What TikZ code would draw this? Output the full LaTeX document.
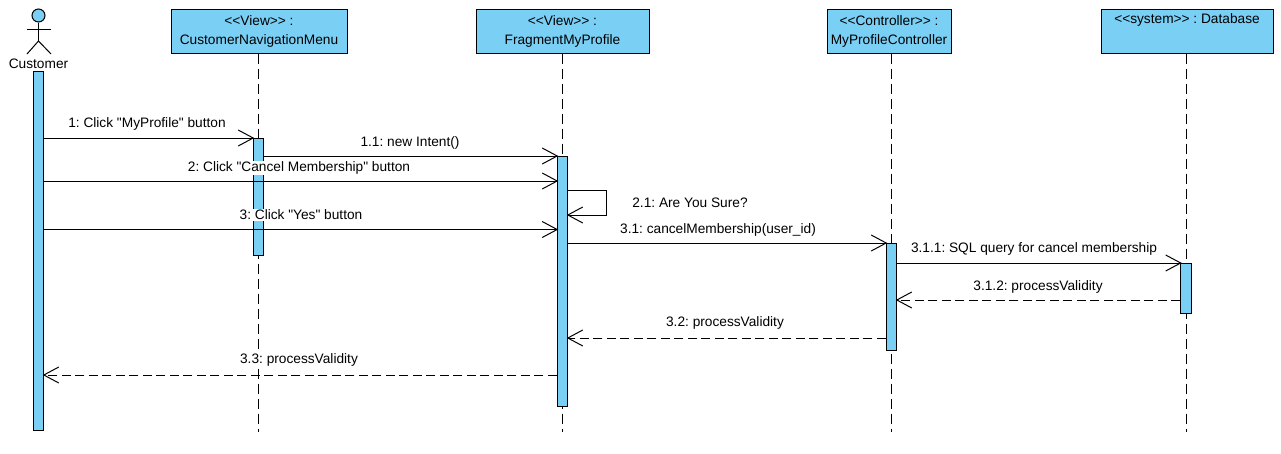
\documentclass[tikz,border=0pt]{standalone}
\usepackage{fontspec}
\setmainfont{Liberation Sans}[Ligatures=TeXOff]
\usetikzlibrary{arrows.meta}
\definecolor{umlblue}{HTML}{7ACFF5}
\tikzset{
    headbox/.style={draw, fill=umlblue, line width=1pt, minimum height=44pt, align=center, inner sep=0pt, font=\fontsize{13.7}{19}\selectfont},
    bar/.style={draw, fill=umlblue, line width=1pt, minimum width=10.5pt, inner sep=0pt},
    lifeline/.style={line width=1pt, dash pattern=on 10pt off 5pt},
    msg/.style={line width=1pt, shorten >=-1.5pt, -{Straight Barb[length=15pt,width=16pt,line width=1pt]}},
    reply/.style={msg, dash pattern=on 9pt off 4.5pt},
    msglabel/.style={fill=white, inner xsep=0pt, inner ysep=1pt, font=\fontsize{13.7}{15}\selectfont}
}
\begin{document}
\frenchspacing
\begin{tikzpicture}[x=1pt, y=-1pt]
    \useasboundingbox (0,0) rectangle (1281,453);

    % lifeline heads
    \node[headbox, minimum width=176pt] (menu) at (259,31) {<<View>> :\\CustomerNavigationMenu};
    \node[headbox, minimum width=173pt] (profile) at (562.5,31) {<<View>> :\\FragmentMyProfile};
    \node[headbox, minimum width=124pt] (control) at (889,31) {<<Controller>> :\\MyProfileController};
    \node[headbox, minimum width=172pt] (database) at (1187,31) {<<system>> : Database\\ \strut};

    \coordinate (menuEnd) at (258,432);
    \coordinate (profileEnd) at (562,432);
    \coordinate (controlEnd) at (891,432);
    \coordinate (databaseEnd) at (1186,432);

    \draw[lifeline] (menuEnd |- menu.south) -- (menuEnd);
    \draw[lifeline] (profileEnd |- profile.south) -- (profileEnd);
    \draw[lifeline] (controlEnd |- control.south) -- (controlEnd);
    \draw[lifeline] (databaseEnd |- database.south) -- (databaseEnd);

    % actor
    \node[circle, draw, fill=umlblue, line width=1pt, minimum size=13pt, inner sep=0pt] (head) at (38.5,15.5) {};
    \coordinate (hip) at (38.5,41);
    \coordinate (armL) at (27,29);
    \coordinate (armR) at (51,29);
    \coordinate (legL) at (27,54);
    \coordinate (legR) at (51,54);
    \draw[line width=1pt] (head.south) -- (hip);
    \draw[line width=1pt] (armL) -- (armR);
    \draw[line width=1pt] (legL) -- (hip) -- (legR);
    \node[font=\fontsize{13.7}{15}\selectfont, inner sep=0pt] (customer) at (38.5,63.5) {Customer};

    % activation bars
    \node[bar, minimum height=359pt] (barCustomer) at (38.5,250.5) {};
    \node[bar, minimum height=117pt] (barMenu) at (258.5,196.5) {};
    \node[bar, minimum height=250pt] (barProfile) at (562.5,281) {};
    \node[bar, minimum height=107pt] (barControl) at (891.5,296.5) {};
    \node[bar, minimum height=50pt] (barDatabase) at (1186,288) {};

    % messages
    \coordinate (m1) at (0,138);
    \coordinate (m11) at (0,156);
    \coordinate (m2) at (0,181);
    \coordinate (m21) at (0,190);
    \coordinate (m21b) at (0,215);
    \coordinate (m3) at (0,229.5);
    \coordinate (m31) at (0,243);
    \coordinate (m311) at (0,263);
    \coordinate (m312) at (0,300);
    \coordinate (m32) at (0,338);
    \coordinate (m33) at (0,375);
    \coordinate (selfLoop) at (606,0);

    \draw[msg] (barCustomer.east |- m1) -- (barMenu.west |- m1);
    \draw[msg] (barMenu.east |- m11) -- (barProfile.west |- m11);
    \draw[msg] (barCustomer.east |- m2) -- (barProfile.west |- m2);
    \draw[msg] (barProfile.east |- m21) -- (selfLoop |- m21) -- (selfLoop |- m21b) -- (barProfile.east |- m21b);
    \draw[msg] (barCustomer.east |- m3) -- (barProfile.west |- m3);
    \draw[msg] (barProfile.east |- m31) -- (barControl.west |- m31);
    \draw[msg] (barControl.east |- m311) -- (barDatabase.west |- m311);
    \draw[reply] (barDatabase.west |- m312) -- (barControl.east |- m312);
    \draw[reply] (barControl.west |- m32) -- (barProfile.east |- m32);
    \draw[reply] (barProfile.west |- m33) -- (barCustomer.east |- m33);

    % message labels
    \node[msglabel] (l1) at (147,124) {1: Click "MyProfile" button};
    \node[msglabel] (l11) at (410,143) {1.1: new Intent()};
    \node[msglabel] (l2) at (299,168) {2: Click "Cancel Membership" button};
    \node[msglabel] (l21) at (690,203) {2.1: Are You Sure?};
    \node[msglabel] (l3) at (301,215) {3: Click "Yes" button};
    \node[msglabel] (l31) at (718,230) {3.1: cancelMembership(user\_id)};
    \node[msglabel] (l311) at (1034,249) {3.1.1: SQL query for cancel membership};
    \node[msglabel] (l312) at (1038,287) {3.1.2: processValidity};
    \node[msglabel] (l32) at (725,323) {3.2: processValidity};
    \node[msglabel] (l33) at (299,360) {3.3: processValidity};
\end{tikzpicture}
\end{document}
